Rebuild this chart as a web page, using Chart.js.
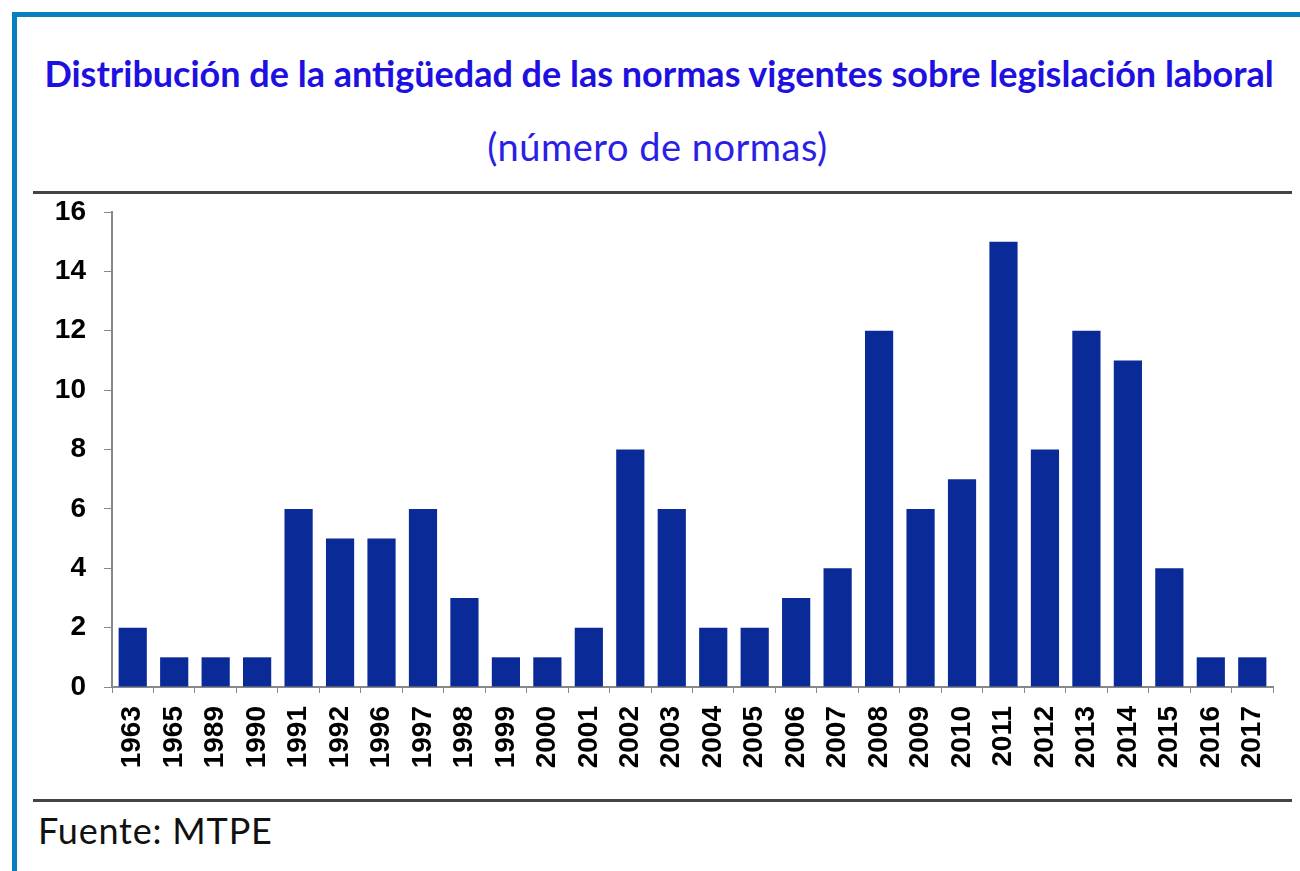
<!DOCTYPE html>
<html>
<head>
<meta charset="utf-8">
<script src="https://cdn.jsdelivr.net/npm/chart.js@4"></script>
<style>
    body { margin: 0; background: #fff; }
    #page { position: relative; width: 1300px; height: 871px; overflow: hidden; }
    #frame { position: absolute; left: 12px; top: 12px; width: 1300px; height: 900px;
        border-left: 5px solid #0b7dc1; border-top: 5px solid #0b7dc1; }
    #title { position: absolute; left: 0; width: 1318px; top: 51px; text-align: center;
        font-family: Lato, sans-serif; font-weight: bold; font-size: 36px; color: #1d10e0; }
    #subtitle { position: absolute; left: 0; width: 1315px; top: 123px; text-align: center;
        font-family: Lato, sans-serif; font-size: 38px; color: #2b1fe6; letter-spacing: 0.5px; }
    .rule { position: absolute; left: 33px; width: 1259px; height: 3px; background: #444; }
    #source { position: absolute; left: 38px; top: 808px; font-family: Lato, sans-serif;
        font-size: 36px; color: #111; letter-spacing: 0.8px; }
    #wrap { position: absolute; left: 0; top: 195px; width: 1300px; height: 600px; }
</style>
</head>
<body>
<div id="page">
    <div id="frame"></div>
    <div id="title">Distribución de la antigüedad de las normas vigentes sobre legislación laboral</div>
    <div id="subtitle">(número de normas)</div>
    <div class="rule" style="top:191px"></div>
    <div id="wrap"><canvas id="chart"></canvas></div>
    <div class="rule" style="top:799px"></div>
    <div id="source">Fuente: MTPE</div>
</div>
<script>
const years = ['1963', '1965', '1989', '1990', '1991', '1992', '1996', '1997', '1998', '1999', '2000', '2001', '2002', '2003',
    '2004', '2005', '2006', '2007', '2008', '2009', '2010', '2011', '2012', '2013', '2014', '2015', '2016', '2017'];
const normas = [2, 1, 1, 1, 6, 5, 5, 6, 3, 1, 1, 2, 8, 6, 2, 2, 3, 4, 12, 6, 7, 15, 8, 12, 11, 4, 1, 1];
const yTicks = [0, 2, 4, 6, 8, 10, 12, 14, 16];

const tickFont = { family: 'Arial', weight: 'bold', size: 28 };

new Chart(document.getElementById('chart'), {
    type: 'bar',
    data: {
        labels: years,
        datasets: [{
            data: normas,
            backgroundColor: '#0a2a97',
            borderColor: '#0a2a97',
            borderWidth: 0,
            categoryPercentage: 1,
            barPercentage: 0.68,
        }],
    },
    options: {
        responsive: true,
        maintainAspectRatio: false,
        animation: false,
        layout: {
            padding: { top: 17, right: 27, left: 0, bottom: 0 },
        },
        plugins: {
            legend: { display: false },
            tooltip: { enabled: false },
        },
        scales: {
            x: {
                grid: { drawOnChartArea: false, color: '#888', tickLength: 6, offset: true },
                border: { color: '#888', width: 2 },
                ticks: {
                    minRotation: 90,
                    maxRotation: 90,
                    autoSkip: false,
                    padding: 13,
                    color: '#000',
                    font: tickFont,
                },
                afterFit: (scale) => {
                    scale.height = 108;
                    scale.paddingLeft = 0;
                    scale.paddingRight = 0;
                },
            },
            y: {
                min: 0,
                max: 16,
                afterBuildTicks: (scale) => { scale.ticks = yTicks.map(v => ({ value: v })); },
                grid: { drawOnChartArea: false, color: '#888', tickLength: 8 },
                border: { color: '#888', width: 2 },
                ticks: {
                    padding: 18,
                    color: '#000',
                    font: tickFont,
                },
                afterFit: (scale) => {
                    scale.width = 112;
                    scale.paddingTop = 0;
                    scale.paddingBottom = 0;
                },
            },
        },
    },
});
</script>
</body>
</html>
